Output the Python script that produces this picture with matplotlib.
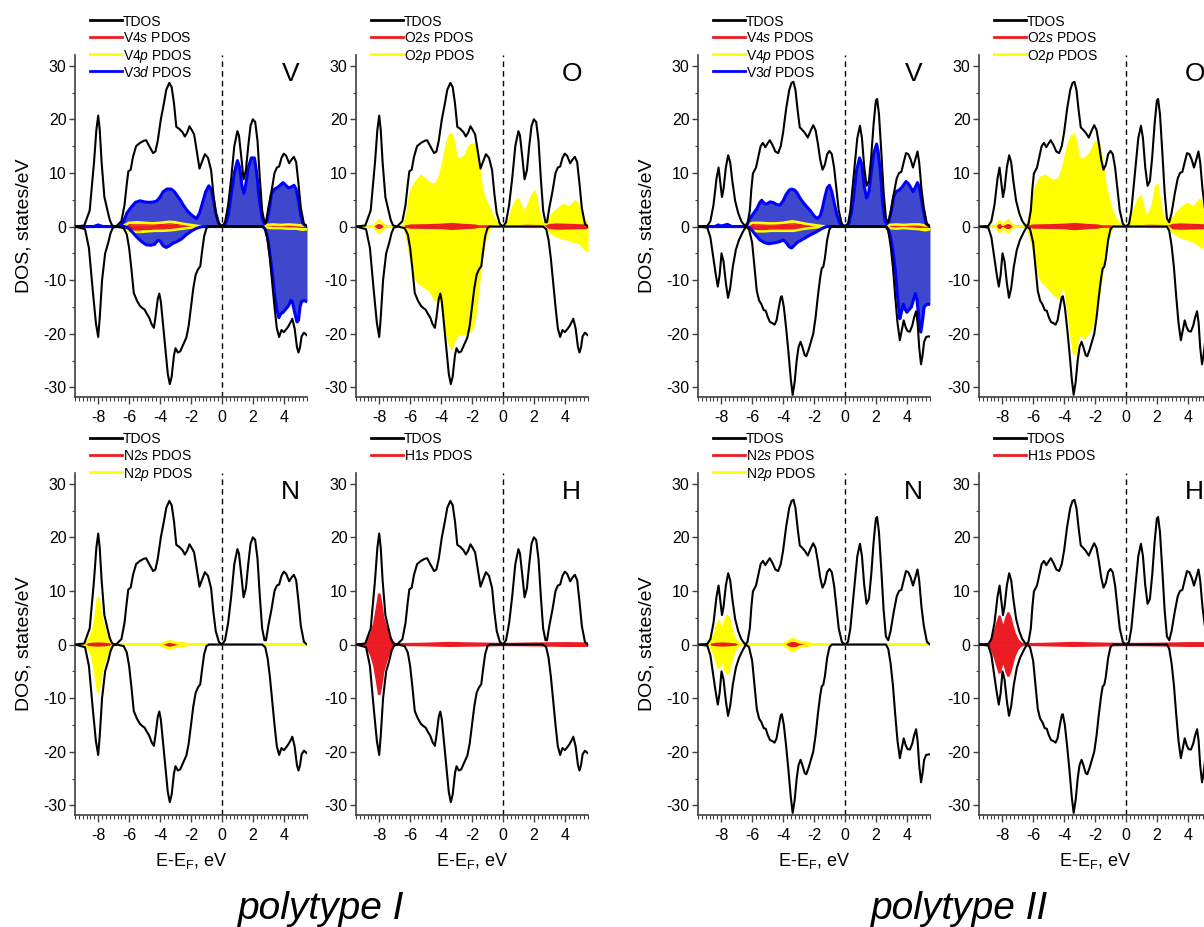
import numpy as np
import matplotlib
matplotlib.use("Agg")
import matplotlib.pyplot as plt
from matplotlib.lines import Line2D
from matplotlib.ticker import MultipleLocator

# ---------------- data (energy in eV, DOS in states/eV) ----------------
# polytype I, total DOS (spin up / spin down)
tdos1_up = [(-9.5, 0), (-8.9, 0.2), (-8.55, 3), (-8.27, 12), (-8.12, 18), (-8.0, 20.7), (-7.9, 18), (-7.78, 12),
            (-7.6, 5.5), (-7.4, 3), (-7.25, 1.2), (-7.1, 0.2), (-6.85, 0), (-6.5, 1), (-6.3, 4), (-6.15, 8),
            (-6.05, 10.3), (-5.9, 10.6), (-5.75, 13), (-5.55, 15), (-5.3, 15.6), (-5.05, 16), (-4.9, 16.1),
            (-4.7, 15), (-4.45, 13.7), (-4.3, 14), (-4.15, 16), (-3.95, 20), (-3.75, 23), (-3.6, 25.5),
            (-3.4, 26.8), (-3.25, 26), (-3.1, 23), (-2.95, 18.6), (-2.75, 18.2), (-2.55, 17.6), (-2.4, 16.8),
            (-2.25, 17.5), (-2.1, 18.7), (-1.95, 18), (-1.8, 17.2), (-1.65, 14.5), (-1.45, 10.8), (-1.3, 12),
            (-1.1, 13.5), (-0.9, 12.8), (-0.7, 10.5), (-0.55, 6), (-0.4, 2.5), (-0.2, 0.5), (0, 0), (0.2, 0.8),
            (0.4, 4), (0.6, 9), (0.8, 15), (1.0, 17.8), (1.1, 17), (1.25, 13), (1.4, 8.8), (1.55, 10.5),
            (1.7, 15), (1.85, 18.8), (2.0, 20), (2.15, 19.5), (2.3, 16), (2.45, 9), (2.6, 3), (2.75, 0.8),
            (2.85, 0.8), (3.0, 3.5), (3.2, 6.5), (3.4, 10), (3.55, 11), (3.7, 11.2), (3.85, 12.8), (4.0, 13.6),
            (4.15, 13.2), (4.35, 11.8), (4.5, 12.5), (4.65, 13), (4.8, 12), (4.95, 8), (5.1, 3.5), (5.3, 0.5),
            (5.5, 0)]
tdos1_dn = [(-9.5, 0), (-8.85, -0.5), (-8.6, -4), (-8.35, -12), (-8.15, -18), (-8.0, -20.6), (-7.9, -17),
            (-7.75, -10), (-7.55, -5), (-7.35, -3), (-7.2, -1.2), (-7.05, -0.2), (-6.8, 0), (-6.35, -0.3),
            (-6.15, -1.5), (-6.0, -4), (-5.85, -8), (-5.7, -12.4), (-5.5, -13.8), (-5.3, -14.8), (-5.15, -15.2),
            (-5.0, -15.5), (-4.85, -16.3), (-4.7, -17), (-4.55, -18.2), (-4.4, -18.9), (-4.3, -17),
            (-4.15, -13.5), (-4.05, -12.5), (-3.95, -14), (-3.8, -18.5), (-3.65, -23), (-3.5, -27.5),
            (-3.37, -29.4), (-3.25, -28), (-3.1, -24), (-3.0, -22.7), (-2.85, -23.5), (-2.7, -23.3),
            (-2.5, -22), (-2.3, -20.7), (-2.15, -18.5), (-2.0, -15), (-1.85, -11.5), (-1.7, -9), (-1.55, -8),
            (-1.4, -7.4), (-1.3, -5), (-1.15, -1.8), (-1.0, -0.3), (-0.85, 0), (2.6, 0), (2.8, -0.5),
            (2.95, -2.5), (3.1, -6), (3.25, -10.5), (3.4, -15), (3.55, -19), (3.7, -20.6), (3.85, -19.3),
            (4.0, -19.7), (4.15, -19.2), (4.3, -18.6), (4.45, -17.8), (4.55, -17.2), (4.7, -19), (4.85, -22.5),
            (4.95, -23.5), (5.05, -22.5), (5.15, -20.5), (5.3, -19.8), (5.5, -20.3)]

# polytype I, V partial DOS
v3d1_up = [(-9.5, 0), (-8.3, 0), (-8.0, 0.3), (-7.7, 0), (-6.6, 0), (-6.35, 1), (-6.15, 2.5), (-5.9, 3.5),
           (-5.6, 4.5), (-5.3, 4.8), (-5.0, 4.6), (-4.7, 4.5), (-4.4, 4.6), (-4.2, 4.8), (-4.0, 5.5), (-3.8, 6.5),
           (-3.55, 7), (-3.3, 7), (-3.1, 6.6), (-2.9, 5.8), (-2.7, 5), (-2.5, 4), (-2.2, 2.8), (-1.9, 2),
           (-1.65, 1.5), (-1.45, 2.5), (-1.25, 4.5), (-1.05, 6.5), (-0.85, 7.6), (-0.7, 7), (-0.55, 5),
           (-0.4, 2.5), (-0.2, 0.5), (0, 0), (0.2, 0.3), (0.4, 2), (0.6, 6), (0.8, 10), (1.0, 12.3), (1.15, 11),
           (1.3, 7.5), (1.42, 6.2), (1.55, 8), (1.7, 11), (1.9, 12.8), (2.1, 12.8), (2.25, 10), (2.4, 5.5),
           (2.6, 1.5), (2.75, 0.5), (2.9, 1), (3.05, 3), (3.2, 6), (3.4, 7), (3.6, 7.3), (3.8, 7.8), (3.95, 8.2),
           (4.1, 7.8), (4.3, 7.2), (4.5, 7.4), (4.65, 7.7), (4.8, 7), (4.95, 5), (5.1, 2), (5.25, 0.5), (5.5, 0)]
v3d1_dn = [(-9.5, 0), (-6.3, 0), (-6.05, -0.3), (-5.8, -1), (-5.5, -2), (-5.2, -2.8), (-4.9, -3.4), (-4.6, -3.5),
           (-4.35, -3.3), (-4.15, -2.6), (-4.0, -2.7), (-3.8, -3.6), (-3.6, -3.9), (-3.4, -3.6), (-3.15, -3.1),
           (-2.9, -2.8), (-2.6, -2.3), (-2.3, -1.5), (-2.0, -0.9), (-1.7, -0.4), (-1.4, -0.1), (-1.2, 0),
           (2.65, 0), (2.8, -0.5), (2.95, -2), (3.1, -5), (3.25, -8.5), (3.4, -12.5), (3.55, -15.5),
           (3.68, -17), (3.8, -16.3), (3.95, -16), (4.1, -15.5), (4.3, -14.8), (4.45, -13.8), (4.55, -14),
           (4.7, -16), (4.85, -17.8), (4.95, -17.5), (5.05, -15), (5.15, -14), (5.3, -13.8), (5.5, -14)]
v4p1_up = [(-9.5, 0), (-6.4, 0), (-6.2, 0.4), (-6.0, 0.7), (-5.5, 0.8), (-5.0, 0.7), (-4.5, 0.6), (-4.0, 0.7),
           (-3.4, 0.9), (-3.0, 0.8), (-2.5, 0.5), (-2.0, 0.3), (-1.5, 0.1), (-1.0, 0), (2.7, 0), (2.9, 0.3),
           (3.3, 0.4), (3.8, 0.3), (4.3, 0.4), (4.8, 0.3), (5.2, 0.2), (5.5, 0.1)]
v4p1_dn = [(-9.5, 0), (-6.4, 0), (-6.2, -0.5), (-6.0, -0.9), (-5.6, -1.0), (-5.2, -1.0), (-4.8, -0.9),
           (-4.3, -0.8), (-3.8, -0.8), (-3.3, -0.7), (-2.8, -0.5), (-2.3, -0.3), (-1.8, -0.15), (-1.2, 0),
           (2.7, 0), (2.9, -0.2), (3.3, -0.3), (3.8, -0.3), (4.3, -0.4), (4.8, -0.4), (5.2, -0.6), (5.5, -0.5)]
v4s1_up = [(-9.5, 0), (-6.3, 0), (-6.1, 0.4), (-5.8, 0.3), (-5.0, 0.3), (-4.0, 0.4), (-3.3, 0.5), (-2.7, 0.3),
           (-2.0, 0.1), (-1.5, 0), (2.8, 0), (3.5, 0.1), (4.5, 0.2), (5.5, 0.1)]
v4s1_dn = [(-9.5, 0), (-6.3, 0), (-6.0, -0.4), (-5.6, -0.9), (-5.2, -0.6), (-4.6, -0.5), (-4.0, -0.5),
           (-3.3, -0.4), (-2.7, -0.2), (-2.0, -0.05), (-1.5, 0), (2.8, 0), (3.5, -0.1), (4.5, -0.2), (5.5, -0.1)]

# polytype I, O partial DOS
o2p1_up = [(-9.5, 0), (-8.4, 0), (-8.2, 0.6), (-8.0, 1.2), (-7.8, 0.6), (-7.6, 0), (-6.45, 0), (-6.3, 1),
           (-6.15, 3), (-6.0, 6), (-5.8, 7.5), (-5.55, 8.5), (-5.3, 9.4), (-5.1, 9), (-4.9, 8.5), (-4.6, 7.8),
           (-4.3, 8), (-4.05, 9.5), (-3.85, 12), (-3.65, 15), (-3.45, 17), (-3.3, 17.2), (-3.15, 15.5),
           (-3.0, 13), (-2.85, 12.5), (-2.6, 12.8), (-2.4, 13.3), (-2.25, 14.5), (-2.1, 15.1), (-1.9, 15.3),
           (-1.75, 15), (-1.65, 14), (-1.5, 10), (-1.35, 7), (-1.15, 5), (-0.9, 3.5), (-0.65, 1.8),
           (-0.35, 0.5), (0, 0), (0.25, 0.3), (0.45, 1.5), (0.65, 3.5), (0.85, 4.8), (1.0, 5.1), (1.15, 4),
           (1.3, 2.5), (1.45, 2.8), (1.65, 4), (1.85, 5.5), (2.05, 6.5), (2.15, 5.5), (2.3, 3), (2.5, 1),
           (2.65, 0.4), (2.85, 1), (3.05, 1.8), (3.3, 2.5), (3.55, 3.2), (3.8, 3.8), (3.95, 4), (4.15, 3.7),
           (4.35, 3.6), (4.55, 4.3), (4.7, 4.7), (4.85, 4.2), (5.0, 3), (5.2, 1.5), (5.35, 0.8), (5.5, 0.5)]
o2p1_dn = [(-9.5, 0), (-8.4, 0), (-8.2, -0.6), (-8.0, -1.2), (-7.8, -0.6), (-7.6, 0), (-6.45, 0), (-6.3, -1),
           (-6.15, -2.5), (-6.0, -5), (-5.8, -8), (-5.6, -9.8), (-5.45, -10.5), (-5.2, -11), (-4.95, -11.5),
           (-4.7, -12), (-4.5, -13), (-4.38, -13.7), (-4.2, -13.5), (-4.05, -13.2), (-3.9, -15), (-3.7, -18),
           (-3.5, -21.5), (-3.3, -22.8), (-3.15, -21.5), (-3.0, -20.5), (-2.8, -20), (-2.55, -20.1),
           (-2.3, -20), (-2.1, -19.5), (-1.9, -18.5), (-1.75, -16), (-1.6, -12), (-1.45, -8), (-1.3, -5),
           (-1.1, -2), (-0.9, -0.5), (-0.7, 0), (2.65, 0), (2.85, -0.5), (3.1, -1.2), (3.4, -1.7), (3.7, -2),
           (4.0, -2.3), (4.3, -2.5), (4.6, -2.8), (4.9, -3), (5.1, -3.5), (5.3, -4.2), (5.5, -4.6)]
o2s1_up = [(-9.5, 0), (-8.3, 0), (-8.0, 0.3), (-7.7, 0), (-6.3, 0), (-6.0, 0.2), (-5.0, 0.25), (-4.0, 0.35),
           (-3.3, 0.5), (-2.5, 0.3), (-1.8, 0.2), (-1.5, 0), (0.5, 0), (1.5, 0.15), (2.5, 0.1), (2.8, 0),
           (3.0, 0.3), (3.5, 0.4), (4.5, 0.3), (5.3, 0.2), (5.5, 0.1)]
o2s1_dn = [(-9.5, 0), (-8.3, 0), (-8.0, -0.3), (-7.7, 0), (-6.3, 0), (-6.0, -0.2), (-5.0, -0.25),
           (-4.0, -0.3), (-3.3, -0.45), (-2.5, -0.3), (-1.8, -0.2), (-1.5, 0), (0.5, 0), (1.5, -0.1),
           (2.5, -0.1), (2.8, 0), (3.0, -0.3), (3.5, -0.4), (4.5, -0.35), (5.3, -0.3), (5.5, -0.2)]

# polytype I, N and H partial DOS
n2p1_up = [(-9.5, 0), (-8.9, 0), (-8.6, 0.8), (-8.4, 2), (-8.25, 3.5), (-8.12, 6), (-8.0, 8.7), (-7.9, 7),
           (-7.75, 4.5), (-7.55, 2.5), (-7.35, 1.2), (-7.15, 0.3), (-7.0, 0), (-4.0, 0), (-3.7, 0.3),
           (-3.4, 0.6), (-3.1, 0.4), (-2.8, 0.2), (-2.3, 0.1), (-2.0, 0), (5.5, 0)]
n2p1_dn = [(-9.5, 0), (-8.9, 0), (-8.6, -0.8), (-8.4, -2), (-8.25, -4), (-8.12, -6.5), (-8.0, -8.8),
           (-7.9, -7), (-7.75, -4.5), (-7.55, -2.5), (-7.35, -1.2), (-7.15, -0.3), (-7.0, 0), (-4.0, 0),
           (-3.7, -0.4), (-3.4, -0.7), (-3.1, -0.5), (-2.8, -0.3), (-2.3, -0.1), (-2.0, 0), (5.5, 0)]
n2s1_up = [(-9.5, 0), (-8.7, 0), (-8.4, 0.15), (-8.0, 0.2), (-7.6, 0.15), (-7.2, 0), (-3.8, 0), (-3.4, 0.3),
           (-3.0, 0.2), (-2.6, 0.2), (-2.2, 0), (5.5, 0)]
n2s1_dn = [(-9.5, 0), (-8.7, 0), (-8.4, -0.15), (-8.0, -0.2), (-7.6, -0.15), (-7.2, 0), (-3.8, 0),
           (-3.4, -0.3), (-3.0, -0.2), (-2.6, -0.3), (-2.2, 0), (5.5, 0)]
h1s1_up = [(-9.5, 0), (-8.95, 0), (-8.7, 0.8), (-8.5, 2), (-8.3, 4), (-8.15, 6.5), (-8.0, 9.3), (-7.9, 8),
           (-7.75, 5), (-7.55, 3), (-7.35, 1.5), (-7.15, 0.5), (-6.95, 0), (-5.0, 0.1), (-3.5, 0.25),
           (-2.0, 0.15), (0, 0.05), (2.0, 0.15), (4.0, 0.2), (5.5, 0.15)]
h1s1_dn = [(-9.5, 0), (-8.95, 0), (-8.7, -0.8), (-8.5, -2), (-8.3, -4), (-8.15, -6.5), (-8.0, -9.2),
           (-7.9, -8), (-7.75, -5), (-7.55, -3), (-7.35, -1.5), (-7.15, -0.5), (-6.95, 0), (-5.0, -0.1),
           (-3.5, -0.2), (-2.0, -0.15), (0, -0.05), (2.0, -0.1), (4.0, -0.2), (5.5, -0.2)]

# polytype II, total DOS
tdos2_up = [(-9.5, 0), (-8.9, 0.1), (-8.7, 1), (-8.5, 4), (-8.3, 9), (-8.17, 11), (-8.05, 8), (-7.95, 5.5),
            (-7.85, 7), (-7.7, 11), (-7.55, 13.3), (-7.42, 12), (-7.28, 8.5), (-7.1, 4.8), (-6.9, 2.5),
            (-6.7, 1), (-6.45, 0), (-6.3, 0.5), (-6.15, 3), (-6.05, 7), (-5.95, 9.9), (-5.75, 11), (-5.6, 13),
            (-5.45, 15), (-5.3, 15.6), (-5.15, 14.8), (-5.0, 15.5), (-4.86, 16.1), (-4.7, 15.3), (-4.5, 14),
            (-4.32, 13.7), (-4.15, 15), (-4.0, 17.5), (-3.8, 22), (-3.6, 25.5), (-3.45, 26.8), (-3.33, 27),
            (-3.2, 25.5), (-3.05, 21.5), (-2.92, 18.5), (-2.75, 18), (-2.6, 17.5), (-2.4, 16.6), (-2.2, 18),
            (-2.05, 18.9), (-1.9, 18), (-1.75, 15.5), (-1.6, 12.5), (-1.45, 10.6), (-1.3, 11.5), (-1.15, 13.5),
            (-1.0, 14.1), (-0.85, 13.5), (-0.7, 11), (-0.55, 7), (-0.4, 3), (-0.2, 0.5), (0, 0), (0.2, 0.5),
            (0.35, 3), (0.5, 7.5), (0.65, 12), (0.8, 16.5), (0.97, 18.8), (1.1, 16.5), (1.25, 11), (1.4, 7.6),
            (1.55, 8.5), (1.7, 13), (1.85, 19), (2.0, 23.5), (2.08, 23.8), (2.2, 21), (2.35, 14), (2.5, 6.5),
            (2.65, 1.5), (2.8, 0.8), (2.95, 2.5), (3.15, 6), (3.35, 9), (3.5, 10), (3.65, 10.2), (3.8, 12),
            (3.95, 13.7), (4.1, 13.5), (4.25, 12.5), (4.4, 11), (4.55, 12.5), (4.69, 14), (4.8, 12), (4.95, 7),
            (5.1, 3.5), (5.3, 0.5), (5.5, 0)]
tdos2_dn = [(-9.5, 0), (-8.9, -0.2), (-8.7, -2), (-8.5, -6), (-8.35, -9), (-8.22, -11.2), (-8.1, -9),
            (-7.98, -5), (-7.85, -6.5), (-7.7, -10.5), (-7.56, -13.3), (-7.42, -11.5), (-7.25, -7.5),
            (-7.05, -4.3), (-6.85, -2.5), (-6.6, -1), (-6.4, 0), (-6.2, -0.5), (-6.0, -3), (-5.85, -7.5),
            (-5.7, -12), (-5.55, -13.8), (-5.4, -14.5), (-5.25, -15.6), (-5.12, -15.7), (-5.0, -16.8),
            (-4.85, -17.8), (-4.7, -18), (-4.55, -18.3), (-4.42, -17.5), (-4.3, -15.5), (-4.15, -13.2),
            (-4.08, -13), (-3.95, -15), (-3.8, -19), (-3.65, -23.5), (-3.5, -28.5), (-3.38, -31.4), (-3.25, -29),
            (-3.12, -25), (-3.0, -22.5), (-2.87, -21.5), (-2.75, -22.5), (-2.6, -24), (-2.5, -24.2),
            (-2.35, -23), (-2.2, -21.5), (-2.05, -20), (-1.9, -17), (-1.75, -13), (-1.6, -9.5), (-1.5, -7.8),
            (-1.4, -7.5), (-1.3, -6), (-1.15, -2.5), (-1.0, -0.5), (-0.85, 0), (2.65, 0), (2.8, -0.8),
            (2.95, -3.5), (3.1, -7.5), (3.25, -13), (3.4, -18), (3.55, -21.2), (3.7, -19), (3.8, -17.5),
            (3.93, -18.8), (4.05, -19.5), (4.2, -19.6), (4.35, -18.5), (4.47, -17), (4.6, -15.8), (4.7, -18),
            (4.8, -22.5), (4.92, -25.7), (5.02, -24), (5.12, -21.5), (5.25, -20.6), (5.4, -20.5), (5.5, -20.5)]

# polytype II, V partial DOS
v3d2_up = [(-9.5, 0), (-8.4, 0), (-8.2, 0.3), (-8.0, 0.1), (-7.6, 0.4), (-7.3, 0), (-6.5, 0), (-6.3, 0.5),
           (-6.15, 1.5), (-5.9, 2.5), (-5.7, 3.3), (-5.5, 4.5), (-5.38, 4.9), (-5.2, 4.3), (-5.05, 4.2),
           (-4.85, 4.6), (-4.65, 4.5), (-4.4, 4.1), (-4.2, 4), (-4.0, 4.8), (-3.8, 6), (-3.6, 6.8), (-3.45, 7),
           (-3.25, 6.8), (-3.1, 6.3), (-2.9, 5.3), (-2.7, 4.5), (-2.5, 3.8), (-2.25, 3), (-2.0, 2), (-1.8, 1.5),
           (-1.6, 2), (-1.45, 3.5), (-1.3, 5.5), (-1.15, 7.2), (-1.0, 7.7), (-0.85, 6.5), (-0.7, 4.5),
           (-0.5, 2), (-0.3, 0.5), (0, 0), (0.25, 0.5), (0.45, 3), (0.6, 6.5), (0.75, 10.5), (0.95, 12.8),
           (1.1, 11.5), (1.25, 7.5), (1.4, 5.3), (1.55, 6.5), (1.7, 10), (1.85, 13.5), (2.05, 15.4), (2.15, 14),
           (2.3, 10), (2.45, 4), (2.6, 1), (2.7, 0.5), (2.85, 1), (3.0, 3), (3.15, 5.5), (3.3, 6.5), (3.5, 6.8),
           (3.65, 7.2), (3.8, 7.8), (3.95, 8.4), (4.1, 8), (4.25, 7.3), (4.4, 6.5), (4.55, 7.3), (4.69, 8.2),
           (4.8, 7.5), (4.95, 5), (5.1, 2.5), (5.25, 0.5), (5.5, 0)]
v3d2_dn = [(-9.5, 0), (-6.3, 0), (-6.05, -0.5), (-5.8, -1.5), (-5.5, -2.5), (-5.2, -3), (-4.95, -3.2),
           (-4.7, -3.1), (-4.45, -3), (-4.2, -2.8), (-4.0, -2.5), (-3.8, -3), (-3.6, -3.8), (-3.45, -4),
           (-3.3, -3.6), (-3.1, -3), (-2.8, -2.5), (-2.5, -2), (-2.2, -1.5), (-1.85, -1), (-1.5, -0.4),
           (-1.2, 0), (2.65, 0), (2.8, -0.5), (2.95, -2), (3.1, -4.5), (3.25, -8), (3.4, -13), (3.55, -17.2),
           (3.65, -16), (3.78, -14.5), (3.9, -15.5), (4.0, -16), (4.15, -15.5), (4.3, -15), (4.45, -13.5),
           (4.55, -12.5), (4.65, -13.5), (4.78, -17), (4.9, -19.7), (5.0, -18), (5.12, -15), (5.3, -14.5),
           (5.5, -14.5)]
v4p2_up = [(-9.5, 0), (-6.4, 0), (-6.2, 0.4), (-6.0, 0.7), (-5.5, 0.7), (-5.0, 0.6), (-4.5, 0.6), (-4.0, 0.7),
           (-3.4, 1.0), (-3.0, 0.8), (-2.5, 0.5), (-2.0, 0.3), (-1.5, 0.1), (-1.0, 0), (2.7, 0), (2.9, 0.3),
           (3.3, 0.4), (3.8, 0.3), (4.3, 0.4), (4.8, 0.4), (5.2, 0.2), (5.5, 0.1)]
v4p2_dn = [(-9.5, 0), (-6.4, 0), (-6.2, -0.5), (-6.0, -0.8), (-5.6, -0.9), (-5.2, -0.9), (-4.8, -0.8),
           (-4.3, -0.8), (-3.8, -0.8), (-3.3, -0.8), (-2.8, -0.5), (-2.3, -0.3), (-1.8, -0.15), (-1.2, 0),
           (2.7, 0), (2.9, -0.3), (3.3, -0.4), (3.8, -0.3), (4.3, -0.4), (4.8, -0.5), (5.2, -0.7), (5.5, -0.5)]
v4s2_up = [(-9.5, 0), (-6.3, 0), (-6.1, 0.4), (-5.8, 0.3), (-5.0, 0.3), (-4.0, 0.4), (-3.3, 0.5), (-2.7, 0.3),
           (-2.0, 0.1), (-1.5, 0), (2.8, 0), (3.5, 0.1), (4.5, 0.2), (5.5, 0.1)]
v4s2_dn = [(-9.5, 0), (-6.3, 0), (-6.0, -0.4), (-5.6, -0.8), (-5.2, -0.6), (-4.6, -0.5), (-4.0, -0.5),
           (-3.3, -0.5), (-2.7, -0.2), (-2.0, -0.05), (-1.5, 0), (2.8, 0), (3.5, -0.1), (4.5, -0.2), (5.5, -0.1)]

# polytype II, O partial DOS
o2p2_up = [(-9.5, 0), (-8.45, 0), (-8.3, 0.6), (-8.15, 1), (-7.95, 0.3), (-7.8, 0.6), (-7.6, 1.2), (-7.4, 0.5),
           (-7.2, 0), (-6.45, 0), (-6.3, 1), (-6.15, 3), (-6.0, 5.5), (-5.85, 7), (-5.65, 8.5), (-5.45, 9.2),
           (-5.2, 9.5), (-5.0, 9), (-4.75, 8.5), (-4.5, 8.6), (-4.3, 9), (-4.1, 10.5), (-3.9, 13), (-3.7, 15.5),
           (-3.5, 16.8), (-3.35, 17.1), (-3.2, 15.5), (-3.05, 13), (-2.9, 12.4), (-2.7, 12.6), (-2.5, 13),
           (-2.3, 13.6), (-2.15, 14.5), (-2.0, 15.5), (-1.85, 15.7), (-1.73, 15.3), (-1.6, 13.5), (-1.45, 10.5),
           (-1.3, 7.5), (-1.1, 5), (-0.9, 3), (-0.6, 1), (-0.3, 0.3), (0, 0), (0.2, 0.5), (0.4, 1.5), (0.6, 3.5),
           (0.8, 5), (0.97, 5.6), (1.1, 4), (1.25, 2), (1.45, 2.2), (1.65, 3.2), (1.8, 5), (1.95, 7.5),
           (2.05, 7.7), (2.15, 5.5), (2.3, 3), (2.45, 1.2), (2.65, 0.5), (2.85, 1), (3.05, 1.5), (3.3, 2.5),
           (3.55, 3.2), (3.75, 3.8), (4.0, 4.2), (4.2, 3.8), (4.4, 3.5), (4.6, 4.3), (4.8, 5), (4.95, 4.5),
           (5.1, 3.5), (5.3, 2), (5.5, 1)]
o2p2_dn = [(-9.5, 0), (-8.45, 0), (-8.3, -0.6), (-8.15, -1), (-7.95, -0.3), (-7.8, -0.6), (-7.6, -1.2),
           (-7.4, -0.5), (-7.2, 0), (-6.45, 0), (-6.3, -0.8), (-6.1, -2.5), (-5.95, -4.5), (-5.75, -7.5),
           (-5.55, -9.5), (-5.35, -10.5), (-5.14, -11), (-4.9, -11.8), (-4.7, -12.5), (-4.5, -13),
           (-4.38, -13.3), (-4.2, -12), (-4.06, -10.5), (-3.95, -11.5), (-3.8, -14), (-3.65, -17.5),
           (-3.5, -21), (-3.35, -23.8), (-3.25, -23.5), (-3.1, -21), (-2.98, -20), (-2.8, -20.5),
           (-2.66, -20.8), (-2.5, -20.2), (-2.33, -19.5), (-2.15, -18.2), (-1.95, -16.5), (-1.8, -14),
           (-1.65, -11), (-1.5, -8), (-1.35, -5), (-1.2, -3), (-1.0, -1), (-0.85, 0), (2.65, 0), (2.85, -0.4),
           (3.05, -1), (3.3, -1.6), (3.6, -2), (3.9, -2.3), (4.15, -2.5), (4.4, -2.8), (4.65, -3.3),
           (4.9, -3.8), (5.2, -4.2), (5.5, -4.5)]
o2s2_up = [(-9.5, 0), (-8.4, 0), (-8.15, 0.3), (-7.9, 0.1), (-7.6, 0.3), (-7.3, 0), (-6.3, 0), (-6.0, 0.2),
           (-5.0, 0.25), (-4.0, 0.35), (-3.3, 0.5), (-2.5, 0.3), (-1.8, 0.2), (-1.5, 0), (0.5, 0), (1.5, 0.15),
           (2.5, 0.1), (2.8, 0), (3.0, 0.3), (3.5, 0.4), (4.5, 0.3), (5.3, 0.2), (5.5, 0.1)]
o2s2_dn = [(-9.5, 0), (-8.4, 0), (-8.15, -0.3), (-7.9, -0.1), (-7.6, -0.3), (-7.3, 0), (-6.3, 0),
           (-6.0, -0.2), (-5.0, -0.25), (-4.0, -0.3), (-3.3, -0.5), (-2.5, -0.3), (-1.8, -0.2), (-1.5, 0),
           (0.5, 0), (1.5, -0.1), (2.5, -0.1), (2.8, 0), (3.0, -0.3), (3.5, -0.4), (4.5, -0.35), (5.3, -0.3),
           (5.5, -0.2)]

# polytype II, N and H partial DOS
n2p2_up = [(-9.5, 0), (-8.8, 0), (-8.6, 0.8), (-8.4, 2), (-8.25, 3.5), (-8.15, 4.3), (-8.05, 3.5), (-7.95, 2.8),
           (-7.85, 3.2), (-7.72, 4.5), (-7.6, 5.3), (-7.48, 4.5), (-7.35, 3), (-7.2, 1.5), (-7.0, 0.5),
           (-6.8, 0.1), (-6.6, 0), (-4.0, 0), (-3.8, 0.3), (-3.55, 0.8), (-3.35, 1.0), (-3.15, 0.7),
           (-2.9, 0.4), (-2.6, 0.3), (-2.3, 0.2), (-2.0, 0), (5.5, 0)]
n2p2_dn = [(-9.5, 0), (-8.8, 0), (-8.6, -0.8), (-8.4, -2), (-8.25, -3.5), (-8.15, -4.3), (-8.05, -3.3),
           (-7.95, -2.8), (-7.85, -3.4), (-7.72, -4.8), (-7.6, -5.4), (-7.48, -4.5), (-7.35, -3), (-7.2, -1.5),
           (-7.0, -0.5), (-6.8, -0.1), (-6.6, 0), (-4.0, 0), (-3.8, -0.3), (-3.55, -0.9), (-3.35, -1.2),
           (-3.15, -0.8), (-2.9, -0.4), (-2.6, -0.2), (-2.0, 0), (5.5, 0)]
n2s2_up = [(-9.5, 0), (-8.6, 0), (-8.3, 0.15), (-7.9, 0.2), (-7.5, 0.15), (-7.1, 0), (-3.8, 0), (-3.4, 0.3),
           (-3.0, 0.2), (-2.6, 0.2), (-2.2, 0), (5.5, 0)]
n2s2_dn = [(-9.5, 0), (-8.6, 0), (-8.3, -0.15), (-7.9, -0.2), (-7.5, -0.15), (-7.1, 0), (-3.8, 0),
           (-3.4, -0.3), (-3.0, -0.2), (-2.6, -0.3), (-2.2, 0), (5.5, 0)]
h1s2_up = [(-9.5, 0), (-8.85, 0), (-8.65, 1), (-8.45, 2.5), (-8.3, 4), (-8.17, 5.2), (-8.05, 4), (-7.95, 3),
           (-7.85, 3.5), (-7.72, 5), (-7.6, 5.8), (-7.48, 5), (-7.35, 3.5), (-7.2, 2), (-7.0, 0.8), (-6.8, 0.2),
           (-6.6, 0), (-5.0, 0.1), (-3.5, 0.25), (-2.0, 0.15), (0, 0.05), (2.0, 0.1), (4.0, 0.2), (5.5, 0.2)]
h1s2_dn = [(-9.5, 0), (-8.85, 0), (-8.65, -1), (-8.45, -2.5), (-8.3, -4), (-8.17, -5.2), (-8.05, -4),
           (-7.95, -3), (-7.85, -3.5), (-7.72, -5), (-7.6, -5.8), (-7.48, -5), (-7.35, -3.5), (-7.2, -2),
           (-7.0, -0.8), (-6.8, -0.2), (-6.6, 0), (-5.0, -0.1), (-3.5, -0.2), (-2.0, -0.15), (0, -0.05),
           (2.0, -0.1), (4.0, -0.2), (5.5, -0.2)]

X_TICKS = [-8, -6, -4, -2, 0, 2, 4]
Y_TICKS = [-30, -20, -10, 0, 10, 20, 30]

RED = '#ec1c24'
YELLOW = '#ffff00'
BLUE = '#0000ff'
BLUE_FILL = '#3f48cc'

plt.rcParams['font.family'] = ['Liberation Sans', 'DejaVu Sans']
plt.rcParams['axes.unicode_minus'] = False
plt.rcParams['mathtext.fontset'] = 'custom'
plt.rcParams['mathtext.rm'] = 'Liberation Sans'
plt.rcParams['mathtext.it'] = 'Liberation Sans:italic'

FIG_W, FIG_H = 1204, 927
AX_W, AX_H = 232, 342


def xy(pts):
    a = np.array(pts, dtype=float)
    return a[:, 0], a[:, 1]


def add_axes(fig, left_px, top_px):
    """axes placed in pixel units of the 1204x927 figure"""
    return fig.add_axes([left_px / FIG_W, (FIG_H - top_px - AX_H) / FIG_H, AX_W / FIG_W, AX_H / FIG_H])


def add_legend(fig, left_px, top_px, labels, colors):
    """Origin-style key above the panel, rows 17 px apart"""
    for i, (lab, c) in enumerate(zip(labels, colors)):
        y = 1 - (top_px - 35 + 17 * i) / FIG_H
        x0 = (left_px + 15) / FIG_W
        x1 = (left_px + 47) / FIG_W
        fig.add_artist(Line2D([x0, x1], [y, y], color=c, lw=2, transform=fig.transFigure))
        fig.text((left_px + 48) / FIG_W, y, lab, fontsize=10, ha='left', va='center_baseline')


def fill_pdos(ax, up, dn, color, z, fill_from=-99):
    for pts in (up, dn):
        e, v = xy(pts)
        ax.fill_between(e, 0, v, where=e >= fill_from, color=color, lw=0, zorder=z)


def line_pdos(ax, up, dn, color, lw, z):
    for pts in (up, dn):
        e, v = xy(pts)
        ax.plot(e, v, color=color, lw=lw, zorder=z)


def draw_tdos(ax, up, dn):
    for pts in (up, dn):
        e, v = xy(pts)
        ax.plot(e, v, color='black', lw=1.5, zorder=10)


def configure(ax, letter, ylabel=False, xlabel=False):
    ax.set_xlim(-9.5, 5.5)
    ax.set_ylim(-31.8, 32)
    for s in ('top', 'right'):
        ax.spines[s].set_visible(False)
    for s in ('left', 'bottom'):
        ax.spines[s].set_linewidth(1.2)
        ax.spines[s].set_color('#404040')
    ax.set_xticks(X_TICKS)
    ax.set_yticks(Y_TICKS)
    ax.xaxis.set_minor_locator(MultipleLocator(0.25))
    ax.yaxis.set_minor_locator(MultipleLocator(5))
    ax.tick_params(axis='both', which='major', direction='out', labelsize=11.5, color='#404040', width=1)
    ax.tick_params(axis='x', which='major', length=5, pad=4)
    ax.tick_params(axis='y', which='major', length=4, pad=2)
    ax.tick_params(axis='x', which='minor', length=3, color='#404040', width=0.8)
    ax.tick_params(axis='y', which='minor', length=2.5, color='#404040', width=0.8)
    ax.axvline(0, color='black', lw=1, ls=(0, (4, 3)), zorder=1)
    ax.text(0.93, 0.945, letter, transform=ax.transAxes, fontsize=19, ha='center', va='center')
    if ylabel:
        ax.set_ylabel('DOS, states/eV', fontsize=14, labelpad=8)
    if xlabel:
        ax.set_xlabel(r'E-E$_\mathrm{F}$, eV', fontsize=13, labelpad=6)


def v_panel(fig, left, top, tup, tdn, v3u, v3d, v4pu, v4pd, v4su, v4sd):
    ax = add_axes(fig, left, top)
    fill_pdos(ax, v3u, v3d, BLUE_FILL, 2)
    fill_pdos(ax, v4pu, v4pd, YELLOW, 3)
    fill_pdos(ax, v4su, v4sd, RED, 4)
    line_pdos(ax, v4su, v4sd, RED, 1.0, 5)
    line_pdos(ax, v4pu, v4pd, YELLOW, 1.8, 6)
    line_pdos(ax, v3u, v3d, BLUE, 2.2, 7)
    draw_tdos(ax, tup, tdn)
    configure(ax, 'V', ylabel=True)
    add_legend(fig, left, top, ['TDOS', r'V$\mathit{4s}$ PDOS', r'V$\mathit{4p}$ PDOS', r'V$\mathit{3d}$ PDOS'],
               ['black', RED, YELLOW, BLUE])


def o_panel(fig, left, top, tup, tdn, pu, pd, su, sd):
    ax = add_axes(fig, left, top)
    fill_pdos(ax, pu, pd, YELLOW, 2, fill_from=-7.0)
    fill_pdos(ax, su, sd, RED, 3)
    line_pdos(ax, su, sd, RED, 1.5, 4)
    line_pdos(ax, pu, pd, YELLOW, 1.8, 5)
    draw_tdos(ax, tup, tdn)
    configure(ax, 'O')
    add_legend(fig, left, top, ['TDOS', r'O$\mathit{2s}$ PDOS', r'O$\mathit{2p}$ PDOS'], ['black', RED, YELLOW])


def n_panel(fig, left, top, tup, tdn, pu, pd, su, sd):
    ax = add_axes(fig, left, top)
    fill_pdos(ax, pu, pd, YELLOW, 2)
    fill_pdos(ax, su, sd, RED, 3)
    line_pdos(ax, su, sd, RED, 1.5, 4)
    line_pdos(ax, pu, pd, YELLOW, 2.0, 5)
    draw_tdos(ax, tup, tdn)
    configure(ax, 'N', ylabel=True, xlabel=True)
    add_legend(fig, left, top, ['TDOS', r'N$\mathit{2s}$ PDOS', r'N$\mathit{2p}$ PDOS'], ['black', RED, YELLOW])


def h_panel(fig, left, top, tup, tdn, su, sd):
    ax = add_axes(fig, left, top)
    fill_pdos(ax, su, sd, RED, 2)
    line_pdos(ax, su, sd, RED, 2.0, 3)
    draw_tdos(ax, tup, tdn)
    configure(ax, 'H', xlabel=True)
    add_legend(fig, left, top, ['TDOS', r'H$\mathit{1s}$ PDOS'], ['black', RED])


def main():
    fig = plt.figure(figsize=(FIG_W / 100, FIG_H / 100), dpi=100)

    # polytype I
    v_panel(fig, 75, 55, tdos1_up, tdos1_dn, v3d1_up, v3d1_dn, v4p1_up, v4p1_dn, v4s1_up, v4s1_dn)
    o_panel(fig, 356, 55, tdos1_up, tdos1_dn, o2p1_up, o2p1_dn, o2s1_up, o2s1_dn)
    n_panel(fig, 75, 473, tdos1_up, tdos1_dn, n2p1_up, n2p1_dn, n2s1_up, n2s1_dn)
    h_panel(fig, 356, 473, tdos1_up, tdos1_dn, h1s1_up, h1s1_dn)

    # polytype II (right column runs off the picture edge)
    v_panel(fig, 698, 55, tdos2_up, tdos2_dn, v3d2_up, v3d2_dn, v4p2_up, v4p2_dn, v4s2_up, v4s2_dn)
    o_panel(fig, 979, 55, tdos2_up, tdos2_dn, o2p2_up, o2p2_dn, o2s2_up, o2s2_dn)
    n_panel(fig, 698, 473, tdos2_up, tdos2_dn, n2p2_up, n2p2_dn, n2s2_up, n2s2_dn)
    h_panel(fig, 979, 473, tdos2_up, tdos2_dn, h1s2_up, h1s2_dn)

    fig.text(321 / FIG_W, 1 - 919 / FIG_H, 'polytype I', fontsize=28, style='italic',
             ha='center', va='baseline')
    fig.text(960 / FIG_W, 1 - 919 / FIG_H, 'polytype II', fontsize=28, style='italic',
             ha='center', va='baseline')

    fig.savefig('out.png', dpi=100)


if __name__ == '__main__':
    main()
